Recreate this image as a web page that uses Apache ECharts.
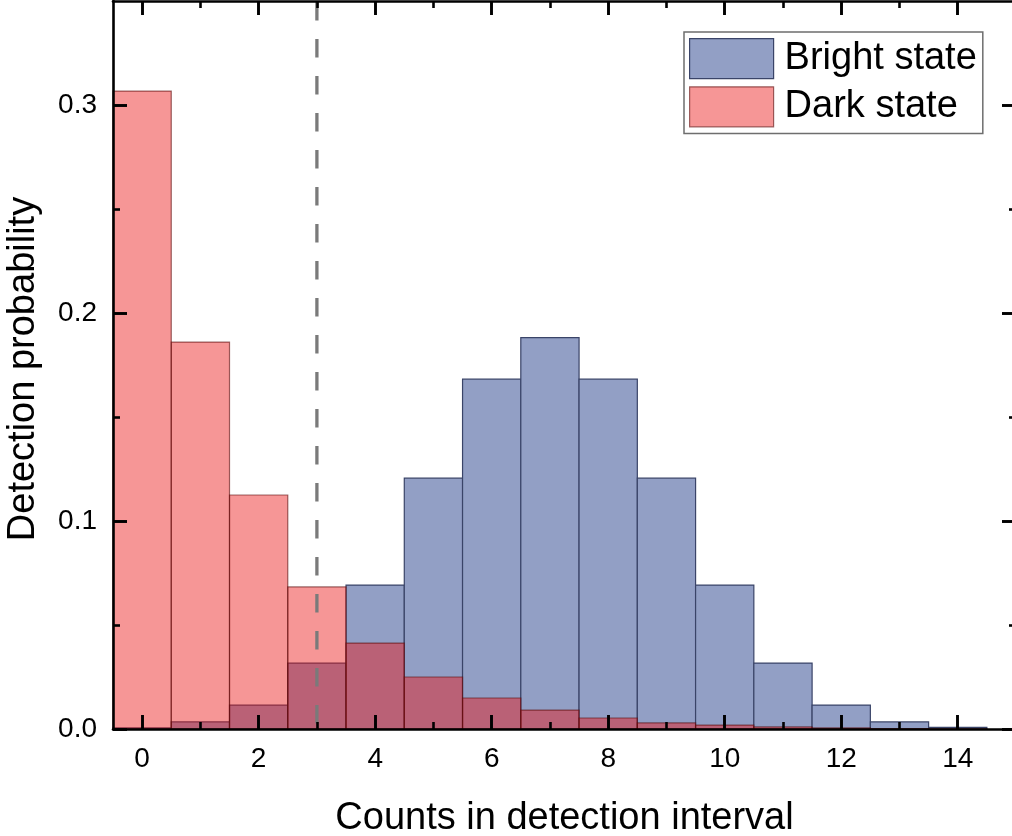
<!DOCTYPE html>
<html>
<head>
<meta charset="utf-8">
<title>Detection probability histogram</title>
<script src="https://cdn.jsdelivr.net/npm/echarts@6/dist/echarts.min.js"></script>
<style>
  html, body { margin: 0; padding: 0; background: #ffffff; }
  #chart { width: 1012px; height: 836px; }
</style>
</head>
<body>
<div id="chart"></div>
<script>
// Photon counts per detection window (histogram bins, width 1)
const counts = [0, 1, 2, 3, 4, 5, 6, 7, 8, 9, 10, 11, 12, 13, 14];
const brightProb = [0.0005, 0.0034, 0.0115, 0.0317, 0.0692, 0.1206, 0.1682, 0.1882, 0.1682, 0.1206, 0.0692, 0.0317, 0.0115, 0.0034, 0.0008];
const darkProb   = [0.3067, 0.1860, 0.1125, 0.0683, 0.0413, 0.0250, 0.0149, 0.0091, 0.0053, 0.0029, 0.0019, 0.0010, 0.0005, 0.0002, 0.0001];
const threshold = 3;

const xMajorTicks = [0, 2, 4, 6, 8, 10, 12, 14];
const xMinorTicks = [1, 3, 5, 7, 9, 11, 13];
const yMajorTicks = [0, 0.1, 0.2, 0.3];
const yMinorTicks = [0.05, 0.15, 0.25];

const FONT = "'Liberation Sans', Arial, Helvetica, sans-serif";
const X_RANGE = [-0.5, 15];
const Y_RANGE = [0, 0.35];

const gridBox = { left: 113, right: -4, top: 1, bottom: 107, containLabel: false, outerBoundsMode: 'none' };

function pairs(xs, ys) { return xs.map((x, i) => [x, ys[i]]); }

// One rectangle per bin, spanning [x-0.5, x+0.5] on the value axis
function histRenderer(fill, stroke, lw) {
  return function (params, api) {
    const x = api.value(0), y = api.value(1);
    const p0 = api.coord([x - 0.5, y]);
    const p1 = api.coord([x + 0.5, 0]);
    return {
      type: 'rect',
      shape: { x: p0[0], y: p0[1], width: p1[0] - p0[0], height: p1[1] - p0[1] },
      style: { fill: fill, stroke: stroke, lineWidth: lw }
    };
  };
}

const BLUE_FILL = '#929fc5';
const BLUE_EDGE = '#3a4468';
const RED_FILL = 'rgba(235,22,22,0.45)';
const RED_EDGE = 'rgba(90,10,10,0.6)';

// axes live on their own layer so ticks stay on top of the bars
const AXIS_LAYER = 1;
const INK = { color: '#000', width: 2.6 };

// Axis that only carries ticks (no line, no labels), laid over the main grid
function tickAxis(grid, position, range, values, len) {
  return {
    type: 'value',
    gridIndex: grid,
    position: position,
    min: range[0], max: range[1],
    zlevel: AXIS_LAYER, z: 10,
    axisLine: { show: false, onZero: false },
    axisLabel: { show: false },
    splitLine: { show: false },
    axisTick: { show: true, inside: true, length: len, customValues: values, lineStyle: INK }
  };
}

// Frame axis: line, long ticks, and optionally labels / name
function frameAxis(position, range, majors, extra) {
  return Object.assign({
    type: 'value',
    gridIndex: 0,
    position: position,
    min: range[0], max: range[1],
    zlevel: AXIS_LAYER, z: 10,
    axisLine: { show: true, onZero: false, lineStyle: INK },
    axisTick: { show: true, inside: true, length: 14, customValues: majors, lineStyle: INK },
    axisLabel: { show: false },
    splitLine: { show: false }
  }, extra);
}

const chart = echarts.init(document.getElementById('chart'), null, { renderer: 'canvas' });

chart.setOption({
  backgroundColor: '#ffffff',
  animation: false,
  textStyle: { fontFamily: FONT },
  grid: [Object.assign({}, gridBox), Object.assign({}, gridBox), Object.assign({}, gridBox)],
  legend: {
    orient: 'vertical',
    left: 684,
    top: 32,
    padding: [6, 6, 6, 5],
    itemWidth: 84,
    itemHeight: 40,
    itemGap: 7,
    backgroundColor: '#ffffff',
    borderColor: '#6e6e6e',
    borderWidth: 1.5,
    borderRadius: 0,
    icon: 'rect',
    z: 20,
    textStyle: { fontFamily: FONT, fontSize: 38, color: '#000000', padding: [0, 0, 0, 6] },
    data: [
      { name: 'Bright state', itemStyle: { color: BLUE_FILL, borderColor: BLUE_EDGE, borderWidth: 1.2 } },
      { name: 'Dark state', itemStyle: { color: RED_FILL, borderColor: RED_EDGE, borderWidth: 1.2 } }
    ]
  },
  xAxis: [
    frameAxis('bottom', X_RANGE, xMajorTicks, {
      name: 'Counts in detection interval',
      nameLocation: 'middle', nameGap: 71,
      nameTextStyle: { fontFamily: FONT, fontSize: 38, color: '#000000' },
      axisLabel: { show: true, customValues: xMajorTicks, fontFamily: FONT, fontSize: 28, color: '#000', margin: 16 }
    }),
    frameAxis('top', X_RANGE, xMajorTicks),
    tickAxis(1, 'bottom', X_RANGE, xMinorTicks, 7),
    tickAxis(1, 'top', X_RANGE, xMinorTicks, 7),
    tickAxis(2, 'bottom', X_RANGE, xMajorTicks, 14),
    tickAxis(2, 'top', X_RANGE, xMajorTicks, 14)
  ],
  yAxis: [
    frameAxis('left', Y_RANGE, yMajorTicks, {
      name: 'Detection probability',
      nameLocation: 'middle', nameGap: 70,
      nameTextStyle: { fontFamily: FONT, fontSize: 38, color: '#000000', padding: [0, 8, 0, 0] },
      axisLabel: {
        show: true, customValues: yMajorTicks, fontFamily: FONT, fontSize: 28, color: '#000', margin: 16,
        formatter: v => v.toFixed(1)
      }
    }),
    frameAxis('right', Y_RANGE, yMajorTicks),
    tickAxis(1, 'left', Y_RANGE, yMinorTicks, 7),
    tickAxis(1, 'right', Y_RANGE, yMinorTicks, 7),
    tickAxis(2, 'left', Y_RANGE, yMajorTicks, 14),
    tickAxis(2, 'right', Y_RANGE, yMajorTicks, 14)
  ],
  series: [
    {
      name: 'Bright state',
      type: 'custom',
      xAxisIndex: 0, yAxisIndex: 0,
      itemStyle: { color: BLUE_FILL, borderColor: BLUE_EDGE, borderWidth: 1.2 },
      renderItem: histRenderer(BLUE_FILL, BLUE_EDGE, 1.2),
      encode: { x: 0, y: 1 },
      data: pairs(counts, brightProb),
      z: 2
    },
    {
      name: 'Dark state',
      type: 'custom',
      xAxisIndex: 0, yAxisIndex: 0,
      itemStyle: { color: RED_FILL, borderColor: RED_EDGE, borderWidth: 1.2 },
      renderItem: histRenderer(RED_FILL, RED_EDGE, 1.2),
      encode: { x: 0, y: 1 },
      data: pairs(counts, darkProb),
      z: 3
    },
    {
      // discrimination threshold
      name: 'threshold',
      type: 'line',
      xAxisIndex: 0, yAxisIndex: 0,
      data: [[threshold, Y_RANGE[0]], [threshold, Y_RANGE[1]]],
      symbol: 'none',
      silent: true,
      lineStyle: { color: '#7a7a7a', width: 3.3, type: [18.5, 18.5], dashOffset: 31.5 },
      z: 4
    }
  ]
});
</script>
</body>
</html>
